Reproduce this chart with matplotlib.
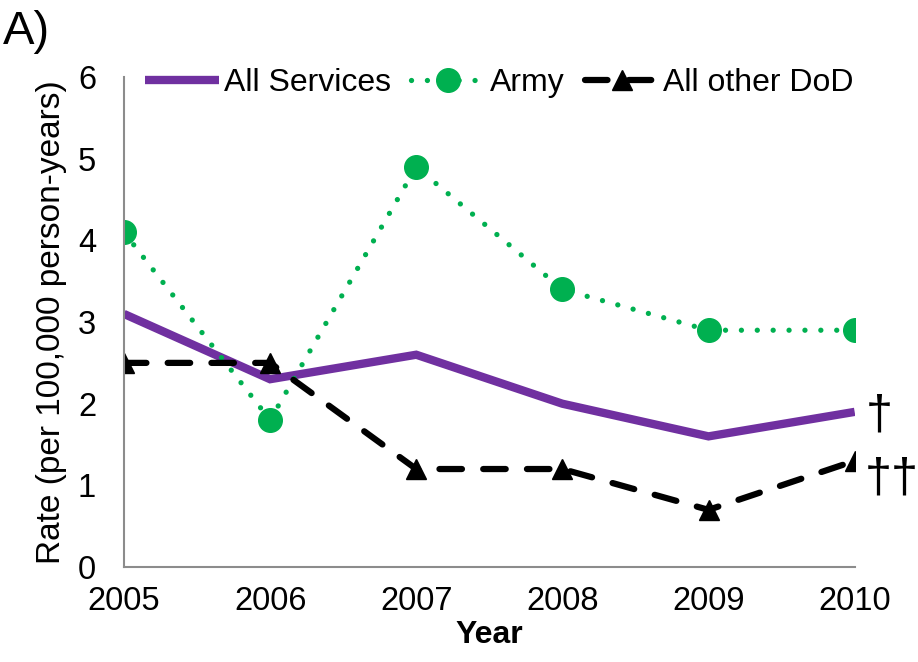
import matplotlib.pyplot as plt

plt.rcParams['font.family'] = ['Liberation Sans', 'DejaVu Sans']

# data
years = [2005, 2006, 2007, 2008, 2009, 2010]
all_services = [3.1, 2.3, 2.6, 2.0, 1.6, 1.9]
army = [4.1, 1.8, 4.9, 3.4, 2.9, 2.9]
other_dod = [2.5, 2.5, 1.2, 1.2, 0.7, 1.3]

purple = '#7030A0'
green = '#00B050'
axis_grey = '#8c8c8c'

fig = plt.figure(figsize=(9.18, 6.62), dpi=100)
ax = fig.add_axes([0.135, 0.1435, 0.796, 0.740])

ax.plot(years, all_services, color=purple, lw=6, solid_capstyle='butt',
        solid_joinstyle='miter', label='All Services')
ax.plot(years, army, color=green, lw=3.8, linestyle=(0, (0.01, 3.0)),
        dash_capstyle='round', marker='o', markersize=17, label='Army')
ax.plot(years, other_dod, color='black', lw=4.5, linestyle=(0, (3.6, 3.4)),
        dash_capstyle='round', marker='^', markersize=14, label='All other DoD')

# significance markers
ax.annotate('\u2020', (years[-1], all_services[-1]), xytext=(8, -3),
            textcoords='offset points', fontsize=35, va='center', ha='left',
            annotation_clip=False)
ax.annotate('\u2020\u2020', (years[-1], other_dod[-1]), xytext=(7, -13),
            textcoords='offset points', fontsize=35, va='center', ha='left',
            annotation_clip=False)

ax.set_xlim(2005, 2010)
ax.set_ylim(0, 6)
ax.set_xticks(years)
ax.set_yticks(range(0, 7))
ax.tick_params(length=0, labelsize=23.5)
ax.tick_params(axis='x', pad=14)
ax.tick_params(axis='y', pad=20)

for side in ['top', 'right']:
    ax.spines[side].set_visible(False)
for side in ['left', 'bottom']:
    ax.spines[side].set_color(axis_grey)
    ax.spines[side].set_linewidth(1.5)

ax.set_xlabel('Year', fontsize=23, fontweight='bold', labelpad=2)
ax.set_ylabel('Rate (per 100,000 person-years)', fontsize=24, labelpad=8)

ax.legend(loc='center', bbox_to_anchor=(0.514, 0.988), ncol=3, frameon=False,
          fontsize=23, handlelength=2.3, handletextpad=0.15, columnspacing=0.65,
          borderaxespad=0)

fig.text(0.003, 0.985, 'A)', fontsize=34, va='top', ha='left')

fig.savefig('out.png', dpi=100)
